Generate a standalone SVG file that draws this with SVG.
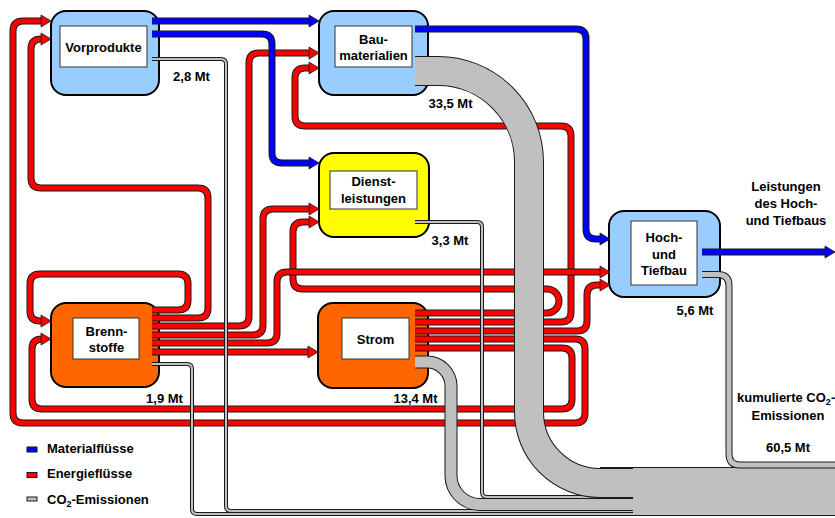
<svg xmlns="http://www.w3.org/2000/svg" xmlns:xlink="http://www.w3.org/1999/xlink" width="835" height="518" viewBox="0 0 835 518">
<style>
text{font-family:"Liberation Sans",Arial,sans-serif;font-weight:bold;font-size:13px;fill:#000}
.c{text-anchor:middle}
.node{stroke:#000;stroke-width:2}
.inner{fill:#fff;stroke:#333;stroke-width:1}
.ro,.bo,.go,.so,.wo,.ho{fill:none;stroke:#1a1a1a}
.ro,.bo,.ho{stroke-width:7}
.rf{fill:none;stroke:#f00;stroke-width:5}
.bf{fill:none;stroke:#00f;stroke-width:5}
.go{stroke-width:4}
.gf{fill:none;stroke:#c0c0c0;stroke-width:2}
.so{stroke-width:13}
.sf{fill:none;stroke:#c0c0c0;stroke-width:11}
.wo{stroke-width:30}
.wf{fill:none;stroke:#c0c0c0;stroke-width:28}
.hf{fill:none;stroke:#c0c0c0;stroke-width:5}
.arR{fill:#f00;stroke:#1a1a1a;stroke-width:0.8}
.arB{fill:#00f;stroke:#1a1a1a;stroke-width:0.8}
</style>
<defs>
<path id="tri" d="M-10,-6 L0,0 L-10,6 Z"/>
<path id="R1" d="M415,339 H575 Q585,339 585,349 V413 Q585,423 575,423 H23 Q13,423 13,413 V31 Q13,21 23,21 H42"/>
<path id="R2" d="M415,348 H562 Q572,348 572,358 V399 Q572,409 562,409 H42 Q32,409 32,399 V349 Q32,339 42,339 H43"/>
<path id="R3" d="M415,331 H577 Q587,331 587,321 V295 Q587,285 597,285 H601"/>
<path id="R4" d="M415,322 H561 Q571,322 571,312 V136 Q571,126 561,126 H305 Q295,126 295,116 V78 Q295,68 305,68 H310"/>
<path id="R5" d="M415,313 H547 A12,12 0 0 0 547,289 H303 Q293,289 293,279 V232 Q293,222 303,222 H310"/>
<path id="R6" d="M152,343 H267 Q277,343 277,333 V282 Q277,272 287,272 H601"/>
<path id="R7" d="M152,335 H253 Q263,335 263,325 V219 Q263,209 273,209 H310"/>
<path id="R8" d="M152,326 H239 Q249,326 249,316 V63 Q249,53 259,53 H310"/>
<path id="R9" d="M152,318 H198 Q208,318 208,308 V198 Q208,188 198,188 H41 Q31,188 31,178 V49 Q31,39 41,39 H42"/>
<path id="R10" d="M152,310 H178 Q188,310 188,300 V284 Q188,274 178,274 H40 Q30,274 30,284 V311 Q30,321 40,321 H42"/>
<path id="R11" d="M152,352 H309"/>
<path id="B1" d="M152,21 H310"/>
<path id="B2" d="M152,34 H262 Q272,34 272,44 V153 Q272,163 282,163 H310"/>
<path id="B3" d="M415,29 H576 Q586,29 586,39 V229 Q586,239 596,239 H601"/>
<path id="B4" d="M702,252 H826"/>
<path id="G1" d="M152,59 H221 Q226,59 226,64 V506 Q226,511 231,511 H640"/>
<path id="G2" d="M152,364 H187 Q192,364 192,369 V509 Q192,514 197,514 H640"/>
<path id="GD" d="M415,222 H477 Q482,222 482,227 V492 Q482,497 487,497 H640"/>
<path id="GS" d="M415,362 H427 A24,24 0 0 1 451,386 V475.5 A29,29 0 0 0 480,504.5 H640"/>
<path id="GB" d="M415,71 H438 A91,91 0 0 1 529,162 V412 A71,71 0 0 0 600,483 H640"/>
<path id="GH" d="M702,274.5 H718 Q729,274.5 729,285.5 V454 Q729,465 740,465 H835"/>
</defs>
<rect width="835" height="518" fill="#fff"/>

<g id="vorprodukte">
<rect class="node" x="51" y="11" width="108" height="84" rx="15" fill="#99ccff"/>
<rect class="inner" x="60" y="26" width="87" height="41"/>
<text class="c" x="103.5" y="51.5">Vorprodukte</text>
<text class="c" x="191.5" y="81">2,8 Mt</text>
</g>
<g id="baumaterialien">
<rect class="node" x="319" y="11" width="109" height="84" rx="15" fill="#99ccff"/>
<rect class="inner" x="335" y="26" width="77" height="41"/>
<text class="c" x="373.5" y="43.5">Bau-</text>
<text class="c" x="373.5" y="60">materialien</text>
<text class="c" x="450.5" y="107.5">33,5 Mt</text>
</g>
<g id="dienstleistungen">
<rect class="node" x="319" y="153" width="110" height="84" rx="15" fill="#ffff00"/>
<rect class="inner" x="330" y="171" width="87" height="38"/>
<text class="c" x="373.5" y="186">Dienst-</text>
<text class="c" x="373.5" y="203">leistungen</text>
<text class="c" x="450" y="245">3,3 Mt</text>
</g>
<g id="hochtiefbau">
<rect class="node" x="609" y="211" width="111" height="86" rx="15" fill="#99ccff"/>
<rect class="inner" x="631" y="221" width="66" height="64"/>
<text class="c" x="664" y="241.5">Hoch-</text>
<text class="c" x="664" y="258.5">und</text>
<text class="c" x="664" y="275">Tiefbau</text>
<text class="c" x="695" y="315">5,6 Mt</text>
</g>
<g id="brennstoffe">
<rect class="node" x="51" y="303" width="108" height="84" rx="15" fill="#ff6600"/>
<rect class="inner" x="73" y="318" width="66" height="41"/>
<text class="c" x="106.5" y="336">Brenn-</text>
<text class="c" x="106.5" y="352">stoffe</text>
<text class="c" x="164.5" y="402.5">1,9 Mt</text>
</g>
<g id="strom">
<rect class="node" x="318" y="303" width="110" height="85" rx="15" fill="#ff6600"/>
<rect class="inner" x="342" y="318" width="67" height="41"/>
<text class="c" x="375.5" y="343.5">Strom</text>
<text class="c" x="415.5" y="402.5">13,4 Mt</text>
</g>

<g id="connectors">
<g id="energy">
<use href="#R1" class="ro"/><use href="#R1" class="rf"/><use href="#tri" class="arR" x="51" y="21"/>
<use href="#R2" class="ro"/><use href="#R2" class="rf"/><use href="#tri" class="arR" x="51" y="339"/>
<use href="#R4" class="ro"/><use href="#R4" class="rf"/><use href="#tri" class="arR" x="319" y="68"/>
<use href="#R3" class="ro"/><use href="#R3" class="rf"/><use href="#tri" class="arR" x="610" y="285"/>
<use href="#R5" class="ro"/><use href="#R5" class="rf"/><use href="#tri" class="arR" x="319" y="222"/>
<use href="#R6" class="ro"/><use href="#R6" class="rf"/><use href="#tri" class="arR" x="610" y="272"/>
<use href="#R7" class="ro"/><use href="#R7" class="rf"/><use href="#tri" class="arR" x="319" y="209"/>
<use href="#R8" class="ro"/><use href="#R8" class="rf"/><use href="#tri" class="arR" x="319" y="53"/>
<use href="#R9" class="ro"/><use href="#R9" class="rf"/><use href="#tri" class="arR" x="51" y="39"/>
<use href="#R10" class="ro"/><use href="#R10" class="rf"/><use href="#tri" class="arR" x="51" y="321"/>
<use href="#R11" class="ro"/><use href="#R11" class="rf"/><use href="#tri" class="arR" x="318" y="352"/>
</g>
<g id="material">
<use href="#B1" class="bo"/><use href="#B1" class="bf"/><use href="#tri" class="arB" x="319" y="21"/>
<use href="#B2" class="bo"/><use href="#B2" class="bf"/><use href="#tri" class="arB" x="319" y="163"/>
<use href="#B3" class="bo"/><use href="#B3" class="bf"/><use href="#tri" class="arB" x="610" y="239"/>
<use href="#B4" class="bo"/><use href="#B4" class="bf"/><use href="#tri" class="arB" x="835" y="252"/>
</g>
<g id="co2">
<use href="#G2" class="go"/><use href="#G2" class="gf"/>
<use href="#G1" class="go"/><use href="#G1" class="gf"/>
<use href="#GS" class="so"/><use href="#GS" class="sf"/>
<use href="#GD" class="go"/><use href="#GD" class="gf"/>
<use href="#GB" class="wo"/><use href="#GB" class="wf"/>
<rect x="633" y="467" width="202" height="48" fill="#c0c0c0"/>
<line x1="600" y1="467.5" x2="835" y2="467.5" stroke="#1a1a1a" stroke-width="1"/>
<line x1="633" y1="515.5" x2="835" y2="515.5" stroke="#1a1a1a" stroke-width="1"/>
<use href="#GH" class="ho"/><use href="#GH" class="hf"/>
</g>
</g>

<g id="labels">
<text class="c" x="786" y="190.5">Leistungen</text>
<text class="c" x="786" y="207.5">des Hoch-</text>
<text class="c" x="786" y="224.5">und Tiefbaus</text>
<text x="737" y="401.5">kumulierte CO<tspan font-size="9" dy="3">2</tspan><tspan dy="-3">-</tspan></text>
<text class="c" x="788" y="419.5">Emissionen</text>
<text class="c" x="788" y="451.5">60,5 Mt</text>
</g>

<g id="legend">
<rect x="27" y="447" width="10" height="5" fill="#00f" stroke="#1a1a1a" stroke-width="1"/>
<rect x="27" y="472.5" width="10" height="5" fill="#f00" stroke="#1a1a1a" stroke-width="1"/>
<rect x="27" y="497" width="10" height="4" fill="#c0c0c0" stroke="#1a1a1a" stroke-width="1"/>
<text x="47" y="452.5">Materialflüsse</text>
<text x="47" y="477.5">Energieflüsse</text>
<text x="47" y="503.5">CO<tspan font-size="9" dy="3">2</tspan><tspan dy="-3">-Emissionen</tspan></text>
</g>
</svg>
